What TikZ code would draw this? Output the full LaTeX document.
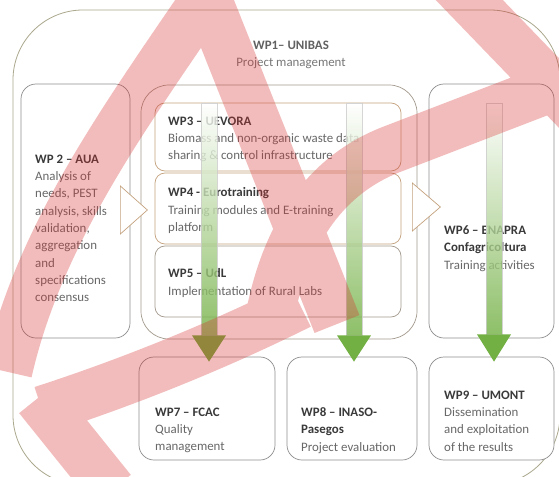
\documentclass[tikz,border=0pt]{standalone}
\usepackage{fontspec}
\setmainfont{Carlito}
\usetikzlibrary{calc}

\definecolor{boxgray}{HTML}{8E8E8E}
\definecolor{boxtan}{HTML}{C4A27E}
\definecolor{boxmix}{HTML}{A39A8E}
\definecolor{outerolive}{HTML}{ABA88E}
\definecolor{titlegray}{HTML}{3A3A3A}
\definecolor{textgray}{HTML}{686868}
\definecolor{flowgreen}{HTML}{72B043}
\definecolor{wmred}{HTML}{D83030}

\newcommand{\wpfont}{\fontsize{11}{14.8}\selectfont}
\newcommand{\wptitle}[1]{\textcolor{titlegray}{\bfseries #1}}

\tikzset{
  outerbox/.style={draw=outerolive, line width=0.7pt, rounded corners=2.1cm, inner sep=0pt},
  wpbox/.style={draw=boxgray, line width=0.6pt, fill=white, rounded corners=0.45cm, inner sep=0pt},
  subbox/.style={draw=boxtan, line width=0.6pt, fill=white, rounded corners=0.3cm, inner sep=0pt, minimum width=7.38cm},
  lowbox/.style={wpbox, minimum height=3.09cm},
  wptext/.style={anchor=north west, align=left, inner sep=0pt, text=textgray, font=\wpfont},
  openhead/.style={draw=boxtan, fill=white, line width=0.6pt, line join=miter},
  flowshaft/.style={top color=white, bottom color=flowgreen, draw=black!20, line width=0.4pt, opacity=0.8},
  flowhead/.style={fill=flowgreen},
  watermark/.style={draw=wmred, opacity=0.32, line width=1.45cm}
}

\begin{document}
\begin{tikzpicture}[x=0.03cm, y=-0.03cm]
  \useasboundingbox (0,0) rectangle (559,477);
  \clip (0,0) rectangle (559,477);

  % WP1 frame
  \node[outerbox, minimum width=16.41cm, minimum height=14.25cm] (wp1) at (286.5,247.5) {};
  \node[wptext, anchor=north, align=center, text=textgray!90] (wp1t) at (291,40.5)
    {\textcolor{black!62}{\bfseries WP1– UNIBAS}\\Project management};

  % boxes
  \node[wpbox, minimum width=3.27cm, minimum height=7.62cm] (wp2) at (75.5,211) {};
  \node[wpbox, draw=boxmix, rounded corners=0.84cm, minimum width=8.28cm, minimum height=7.62cm] (mid) at (279,212) {};
  \node[subbox, minimum height=2.04cm] (wp3) at (278,137) {};
  \node[subbox, minimum height=2.13cm] (wp4) at (278,208.5) {};
  \node[subbox, draw=boxmix, minimum height=2.13cm] (wp5) at (278,281.5) {};
  \node[wpbox, minimum width=3.75cm, minimum height=7.62cm] (wp6) at (491.5,211) {};
  \node[lowbox, minimum width=4.08cm] (wp7) at (207,408.5) {};
  \node[lowbox, minimum width=3.9cm] (wp8) at (352,408.5) {};
  \node[lowbox, minimum width=3.75cm] (wp9) at (491.5,408.5) {};

  % texts
  \node[wptext] (wp2t) at (35,154.5) {\wptitle{WP 2 – AUA}\\Analysis of\\needs, PEST\\analysis, skills\\validation,\\aggregation\\and\\specifications\\consensus};
  \node[wptext] (wp3t) at (168,116.5) {\wptitle{WP3 – UEVORA}\\Biomass and non-organic waste data\\sharing \& control infrastructure};
  \node[wptext] (wp4t) at (168,187.5) {\wptitle{WP4 - Eurotraining}\\Training modules and E-training\\platform};
  \node[wptext] (wp5t) at (168,268.5) {\wptitle{WP5 – UdL}\\Implementation of Rural Labs};
  \node[wptext] (wp6t) at (444,225.5) {\wptitle{WP6 – ENAPRA}\\\wptitle{Confagricoltura}\\Training activities};
  \node[wptext] (wp7t) at (155,407.5) {\wptitle{WP7 – FCAC}\\Quality\\management};
  \node[wptext] (wp8t) at (301,407.5) {\wptitle{WP8 – INASO-}\\\wptitle{Pasegos}\\Project evaluation};
  \node[wptext] (wp9t) at (444,390.5) {\wptitle{WP9 – UMONT}\\Dissemination\\and exploitation\\of the results};

  % open heads between the columns
  \filldraw[openhead] ($(wp2.east)+(-10,-25)$) -- ++(27,24) -- ++(-27,24) -- cycle;
  \filldraw[openhead] ($(mid.east)+(-5,-29)$) -- ++(28,24) -- ++(-28,24) -- cycle;

  % flows down to WP7, WP8, WP9
  \coordinate (f7) at (209,103);
  \coordinate (f8) at (354,103);
  \coordinate (f9) at (494,103);
  \shadedraw[flowshaft] ($(f7)+(-8,0)$) rectangle ($(f7 |- mid.south)+(8,-4)$);
  \fill[flowhead] ($(f7 |- mid.south)+(-17,-4)$) -- ++(34,0) -- ($(f7 |- wp7.north)+(0,5)$) -- cycle;
  \shadedraw[flowshaft] ($(f8)+(-8,0)$) rectangle ($(f8 |- mid.south)+(8,-4)$);
  \fill[flowhead] ($(f8 |- mid.south)+(-17,-4)$) -- ++(34,0) -- ($(f8 |- wp8.north)+(0,5)$) -- cycle;
  \shadedraw[flowshaft] ($(f9)+(-8,0)$) rectangle ($(f9 |- wp6.south)+(8,-4)$);
  \fill[flowhead] ($(f9 |- wp6.south)+(-17,-4)$) -- ++(34,0) -- ($(f9 |- wp9.north)+(0,5)$) -- cycle;

  % watermark
  \draw[watermark] (218,-20) .. controls (130,110) and (40,230) .. (8,372)
    (200,-20) -- (337,324)
    (450,-20) -- (585,120)
    (585,75) -- (390,150) .. controls (320,178) and (285,240) .. (270,315)
    (300,305) .. controls (240,335) and (150,375) .. (42,410)
    (38,398) -- (112,490);
\end{tikzpicture}
\end{document}
